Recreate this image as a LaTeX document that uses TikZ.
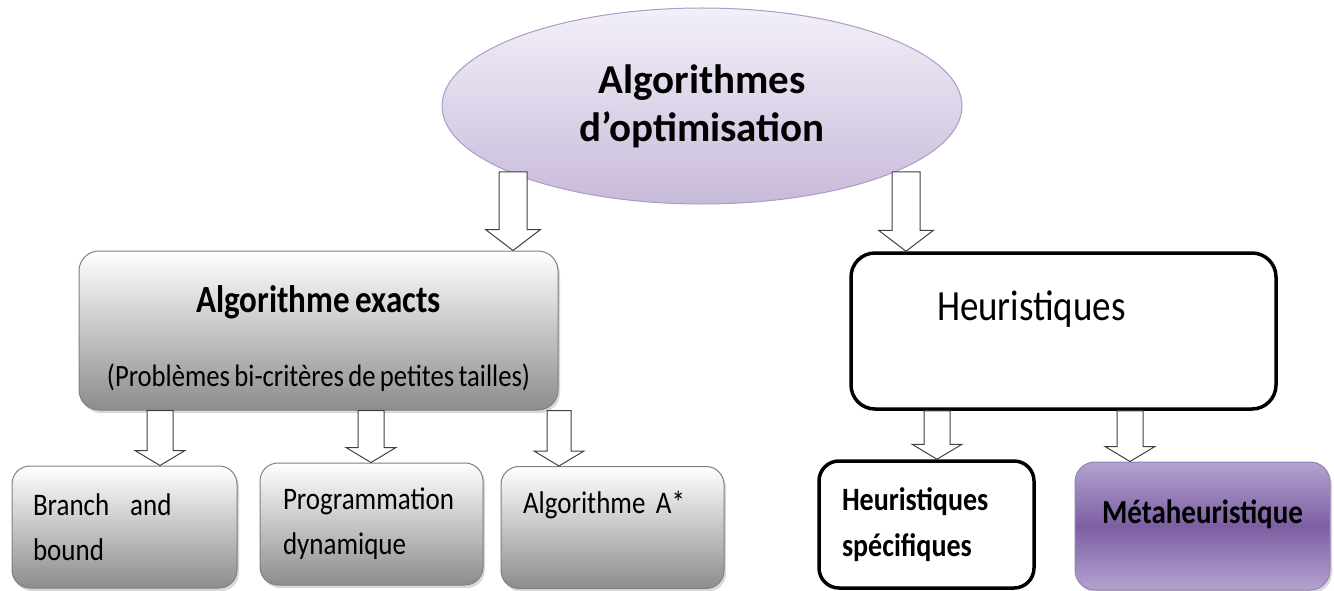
\documentclass[tikz,border=0pt]{standalone}
\usepackage{fontspec}
\setmainfont{Carlito}
\newfontfamily\boxfont[FakeStretch=0.86]{Carlito}
\newcommand{\serre}{\spaceskip=0.14em\relax}
\usetikzlibrary{shapes.geometric,calc,shadows,positioning}

\definecolor{lavtop}{RGB}{243,240,248}
\definecolor{lavbot}{RGB}{200,186,218}
\definecolor{lavline}{RGB}{172,155,198}
\definecolor{purtop}{RGB}{180,163,208}
\definecolor{purmid}{RGB}{124,95,162}

% block arrow: start, tip, half shaft, half head, head length
\newcommand{\fleche}[5]{%
	\draw[blockarrow] let \p1=(#1), \p2=(#2) in
	(\x1-#3,\y1) -- (\x1-#3,\y2+#5) -- (\x1-#4,\y2+#5) -- (\x1,\y2)
	-- (\x1+#4,\y2+#5) -- (\x1+#3,\y2+#5) -- (\x1+#3,\y1) -- cycle;}

\begin{document}
\begin{tikzpicture}[x=1pt,y=-1pt]
		\tikzstyle{root}=[ellipse, draw=lavline, line width=1pt, top color=lavtop, bottom color=lavbot, minimum width=520pt, minimum height=196pt, inner sep=0pt, align=center, font=\bfseries\fontsize{41}{48}\selectfont]
		\tikzstyle{exactbox}=[rectangle, rounded corners=20pt, draw=black!50, line width=1pt, top color=white, bottom color=black!45, drop shadow={opacity=0.3, shadow xshift=2pt, shadow yshift=-3pt}]
		\tikzstyle{heurbox}=[rectangle, rounded corners=24pt, draw=black, line width=3.5pt, fill=white]
		\tikzstyle{leaf}=[exactbox, rounded corners=18pt, minimum height=122pt, align=left, font=\boxfont\fontsize{31.4}{45}\selectfont]
		\tikzstyle{metabox}=[rectangle, rounded corners=20pt, draw=purmid!80, line width=1pt, top color=purtop, bottom color=purtop, middle color=purmid, drop shadow={opacity=0.3, shadow xshift=2pt, shadow yshift=-3pt}]
		\tikzstyle{blockarrow}=[draw=black!75, line width=1pt, fill=white, line join=miter]
		\useasboundingbox (0,0) rectangle (1334,591);
		
		\node[root] (optim) at (702,106) {Algorithmes\\d’optimisation};
		
		\node[exactbox, minimum width=479pt, text width=459pt, inner xsep=10pt, inner ysep=0pt, text height=61pt, text depth=98pt, align=center, font=\boxfont\fontsize{31}{74}\selectfont] (exact) at (318.5,330.5) {{\bfseries\fontsize{38.4}{74}\selectfont\serre Algorithme exacts}\\\serre(Problèmes bi-critères de petites tailles)};
		\node[heurbox, minimum width=425pt, text width=253pt, inner xsep=86pt, inner ysep=0pt, text height=67pt, text depth=89pt, align=left, font=\boxfont\fontsize{43}{50}\selectfont] (heur) at (1063.5,331) {Heuristiques};
		
		\node[leaf, minimum width=225pt, text width=183pt, inner xsep=21pt] (branch) at (124.5,527) {Branch\ \ and\\bound};
		\node[leaf, minimum width=223pt, text width=177pt, inner xsep=23pt] (prog) at (371.5,524) {Programmation\\dynamique};
		\node[leaf, minimum width=223pt, text width=179pt, inner xsep=22pt, inner ysep=0pt, text height=46pt, text depth=75pt] (astar) at (612.5,527.5) {Algorithme A*};
		
		\node[heurbox, rounded corners=20pt, minimum width=215pt, minimum height=127pt, text width=169pt, inner xsep=23pt, align=left, font=\boxfont\bfseries\fontsize{32.6}{46}\selectfont] (hspec) at (926.5,524.5) {Heuristiques\\spécifiques};
		\node[metabox, minimum width=255pt, inner ysep=0pt, text height=61pt, text depth=67pt, font=\boxfont\bfseries\fontsize{33.7}{40}\selectfont] (meta) at (1202.5,526) {Métaheuristique};
		
		\coordinate (s1) at (513,172);
		\coordinate (s2) at (906,172);
		\coordinate (s3) at (160,0 |- exact.south);
		\coordinate (s4) at (371,0 |- exact.south);
		\coordinate (s5) at (559,0 |- exact.south);
		\coordinate (s6) at (937,0 |- heur.south);
		\coordinate (s7) at (1130,0 |- heur.south);
		
		\fleche{s1}{s1 |- exact.north}{14pt}{27.5pt}{21pt}
		\fleche{s2}{s2 |- heur.north}{14pt}{27.5pt}{21pt}
		\fleche{s3}{s3 |- branch.north}{13pt}{25pt}{15pt}
		\fleche{s4}{s4 |- prog.north}{13pt}{25pt}{15pt}
		\fleche{s5}{s5 |- astar.north}{12pt}{25pt}{15pt}
		\fleche{s6}{s6 |- hspec.north}{13pt}{25pt}{15pt}
		\fleche{s7}{s7 |- meta.north}{13pt}{25pt}{15pt}

	\end{tikzpicture}
\end{document}
